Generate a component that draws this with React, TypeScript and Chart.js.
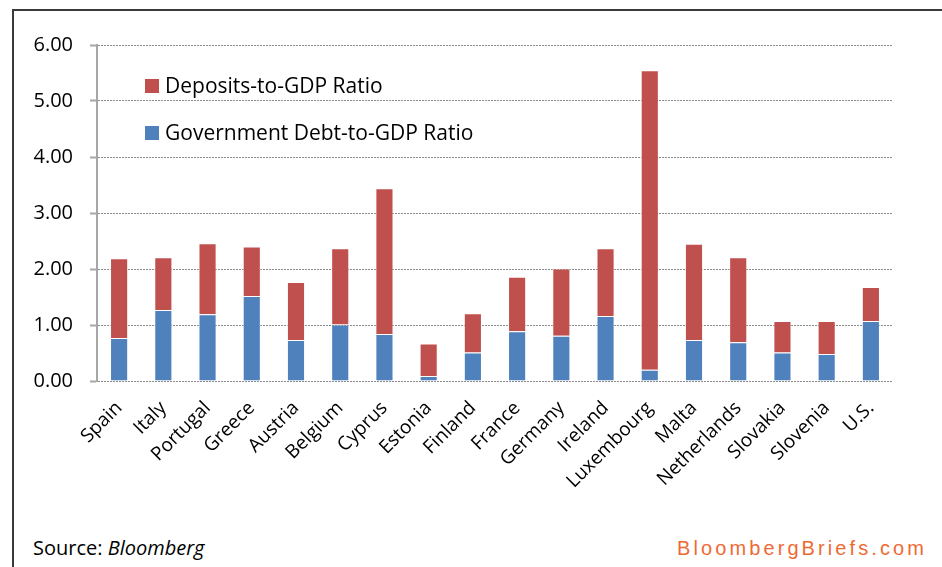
import React, { useEffect, useRef } from 'react';
import { Chart, registerables } from 'chart.js';

Chart.register(...registerables);

const FONT = '"Open Sans", sans-serif';

const categories = [
  'Spain', 'Italy', 'Portugal', 'Greece', 'Austria', 'Belgium', 'Cyprus', 'Estonia', 'Finland',
  'France', 'Germany', 'Ireland', 'Luxembourg', 'Malta', 'Netherlands', 'Slovakia', 'Slovenia', 'U.S.',
];

// Government debt-to-GDP (bottom, blue)
const debtRatio = [0.77, 1.27, 1.19, 1.52, 0.73, 1.01, 0.84, 0.09, 0.51, 0.89, 0.81, 1.16, 0.20, 0.73, 0.69, 0.51, 0.48, 1.07];
// Deposits-to-GDP (stacked on top, red)
const depositsRatio = [1.42, 0.94, 1.27, 0.88, 1.04, 1.36, 2.60, 0.58, 0.70, 0.97, 1.20, 1.21, 5.35, 1.72, 1.52, 0.56, 0.59, 0.61];

const yMin = 0;
const yMax = 6;
const yStep = 1;

const depositsLabel = 'Deposits-to-GDP Ratio';
const debtLabel = 'Government Debt-to-GDP Ratio';

const RED = '#C0504D';
const BLUE = '#4F81BD';

const insideLegend = {
  id: 'insideLegend',
  afterDraw(chart: any) {
    const { ctx, chartArea } = chart;
    const ds = chart.data.datasets;
    const items = [ds[1], ds[0]];
    ctx.save();
    ctx.font = `21px ${FONT}`;
    ctx.textBaseline = 'middle';
    ctx.textAlign = 'left';
    items.forEach((d: any, i: number) => {
      const y = chartArea.top + 41 + i * 47;
      ctx.fillStyle = d.backgroundColor;
      ctx.fillRect(chartArea.left + 48, y - 7, 14, 14);
      ctx.fillStyle = '#000';
      ctx.fillText(d.label, chartArea.left + 68, y + 1);
    });
    ctx.restore();
  },
};

export default function App() {
  const ref = useRef<HTMLCanvasElement | null>(null);

  useEffect(() => {
    if (!ref.current) return;
    const chart = new Chart(ref.current, {
      type: 'bar',
      data: {
        labels: categories,
        datasets: [
          {
            label: debtLabel,
            data: debtRatio,
            backgroundColor: BLUE,
            borderColor: 'rgba(255,255,255,0.45)',
            borderWidth: 1,
            categoryPercentage: 1,
            barPercentage: 0.41,
          },
          {
            label: depositsLabel,
            data: depositsRatio,
            backgroundColor: RED,
            borderColor: 'rgba(255,255,255,0.45)',
            borderWidth: 1,
            categoryPercentage: 1,
            barPercentage: 0.41,
          },
        ],
      },
      options: {
        responsive: false,
        animation: false,
        layout: { padding: { top: 45, right: 49, left: 0, bottom: 0 } },
        plugins: { legend: { display: false }, tooltip: { enabled: false } },
        scales: {
          x: {
            stacked: true,
            grid: { display: false },
            border: { display: false },
            ticks: {
              autoSkip: false,
              minRotation: 45,
              maxRotation: 45,
              color: '#000',
              padding: 8,
              font: { family: FONT, size: 19 },
            },
            afterFit(scale: any) {
              scale.height = 139;
            },
          },
          y: {
            stacked: true,
            min: yMin,
            max: yMax,
            ticks: {
              stepSize: yStep,
              color: '#000',
              padding: 17,
              font: { family: FONT, size: 20 },
              callback: (v: any) => Number(v).toFixed(2),
            },
            grid: {
              color: '#8c8c8c',
              lineWidth: 1,
              tickLength: 7,
              tickColor: '#a6a6a6',
              tickWidth: 2,
              tickBorderDash: [],
            },
            border: { display: true, color: '#a6a6a6', width: 2, dash: [2, 1] },
            afterFit(scale: any) {
              scale.width = 97;
            },
          },
        },
      },
      plugins: [insideLegend],
    });
    return () => chart.destroy();
  }, []);

  return (
    <div style={{ position: 'fixed', left: 0, top: 0, width: 942, height: 567, overflow: 'hidden', background: '#fff' }}>
      <div
        style={{
          position: 'absolute',
          left: 12,
          top: 9,
          width: 1000,
          height: 700,
          borderLeft: '2px solid #3a3a3a',
          borderTop: '2px solid #3a3a3a',
          boxSizing: 'border-box',
        }}
      />
      <canvas ref={ref} width={942} height={520} style={{ position: 'absolute', left: 0, top: 0, display: 'block' }} />
      <div
        style={{
          position: 'absolute',
          left: 33,
          top: 536,
          fontFamily: FONT,
          fontSize: 20,
          lineHeight: '24px',
          color: '#000',
          whiteSpace: 'nowrap',
        }}
      >
        Source: <i>Bloomberg</i>
      </div>
      <div
        style={{
          position: 'absolute',
          left: 677,
          top: 536,
          fontFamily: '"Liberation Sans", Arial, sans-serif',
          fontSize: 20,
          lineHeight: '24px',
          letterSpacing: '3.1px',
          color: '#EE6A34',
          whiteSpace: 'nowrap',
        }}
      >
        BloombergBriefs.com
      </div>
    </div>
  );
}
